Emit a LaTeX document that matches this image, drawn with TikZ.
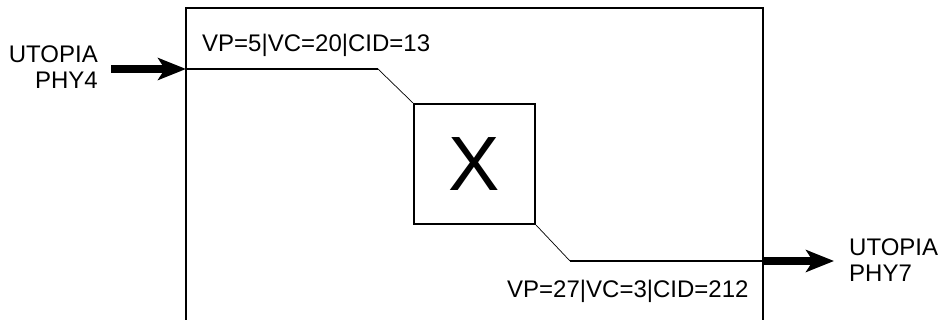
\documentclass[tikz,border=0pt]{standalone}
\usepackage{fontspec}
\setmainfont{Liberation Sans}
\usetikzlibrary{arrows.meta}
\tikzset{
  lbl/.style={inner sep=0pt, font=\fontsize{24}{25}\selectfont},
  frame/.style={line width=2pt},
  path main/.style={line width=2pt},
  thin link/.style={line width=0.7pt},
  bigarrow/.style={line width=8pt, -{Stealth[length=28pt, width=22pt, inset=7pt]}},
}
\begin{document}
\begin{tikzpicture}[x=1pt, y=-1pt]
\useasboundingbox (0,0) rectangle (939,320);
% frame
\coordinate (fbl) at (186,322);
\coordinate (ftl) at (186,8);
\coordinate (ftr) at (763,8);
\coordinate (fbr) at (763,322);
\draw[frame] (fbl) -- (ftl) -- (ftr) -- (fbr);
% switch box
\node[draw, line width=2pt, minimum width=121pt, minimum height=120pt, inner sep=0pt,
      font=\fontsize{77}{80}\selectfont] (sw) at (474.5,164) {X};
% path
\coordinate (inp) at (186,69);
\coordinate (bend1) at (378,69);
\coordinate (bend2) at (570,261);
\coordinate (outp) at (763,261);
\draw[path main] (inp) -- (bend1);
\draw[thin link] (bend1) -- (sw.north west);
\draw[thin link] (sw.south east) -- (bend2);
\draw[path main] (bend2) -- (outp);
% arrows
\coordinate (lstart) at (111,69);
\coordinate (rend) at (834,261);
\draw[bigarrow] (lstart) -- (inp);
\draw[bigarrow] (outp) -- (rend);
% labels
\node[lbl, anchor=base west] (toplbl) at (202,52) {VP=5|VC=20|CID=13};
\node[lbl, anchor=base west] (botlbl) at (507,297) {VP=27|VC=3|CID=212};
\node[lbl, anchor=base east, align=right] (inlbl) at (98,89) {UTOPIA\\[1pt]PHY4};
\node[lbl, anchor=base west, align=left] (outlbl) at (849,281) {UTOPIA\\PHY7};
\end{tikzpicture}
\end{document}
